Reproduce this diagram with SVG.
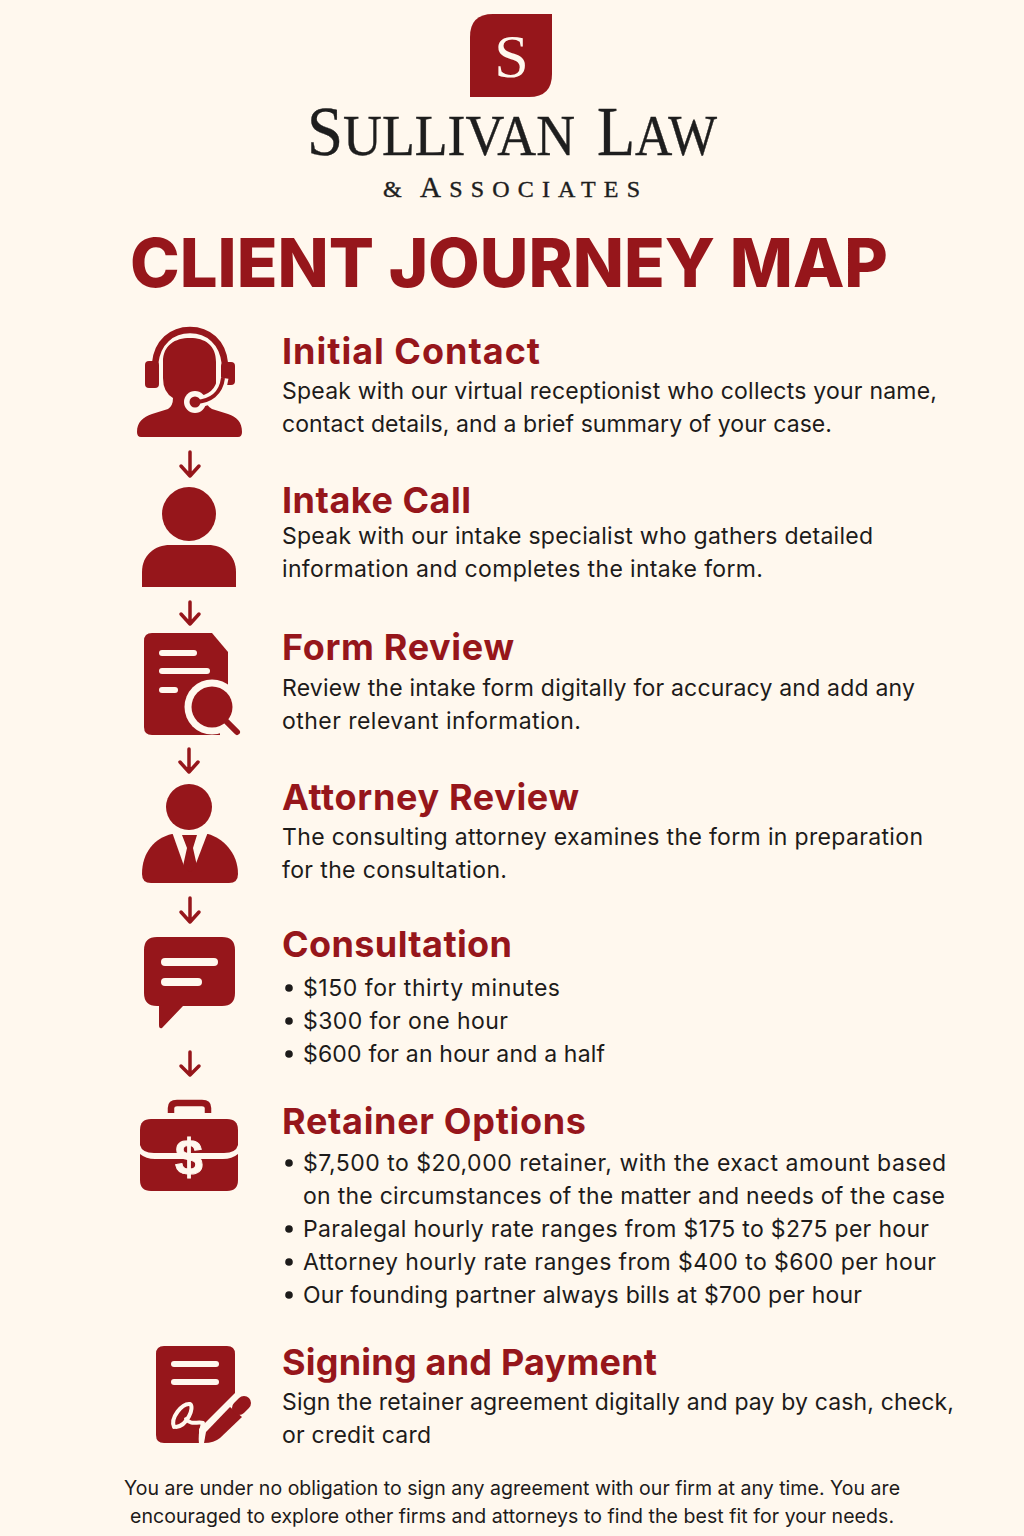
<svg xmlns="http://www.w3.org/2000/svg" width="1024" height="1536" viewBox="0 0 1024 1536">
<style>
.r{fill:#96161b}.c{fill:#fff8ee}
.h{font-family:Inter,"Liberation Sans",sans-serif;font-weight:700;font-size:36px;fill:#96161b}
.b{font-family:Inter,"Liberation Sans",sans-serif;font-size:23px;fill:#1d1b1a}
.f{font-family:Inter,"Liberation Sans",sans-serif;font-size:19.500px;fill:#1d1b1a}
.s{font-family:"Liberation Serif",serif;fill:#1e1e1e;stroke:#1e1e1e;stroke-width:.4}
.dot{fill:#1d1b1a}
.arrow{fill:none;stroke:#96161b;stroke-width:3.5;stroke-linecap:round;stroke-linejoin:round}
</style>
<rect width="1024" height="1536" fill="#fff8ee"/>
<g id="header">
<path class="r" d="M470 97V37Q470 14 493 14H552V74Q552 97 529 97Z"/>
<text x="511.500" y="77" text-anchor="middle" font-family="Liberation Serif,serif" font-size="62" fill="#fff8ee">S</text>
<text class="s" y="155" font-size="58"><tspan x="307" textLength="268" lengthAdjust="spacingAndGlyphs"><tspan font-size="70">S</tspan>ULLIVAN</tspan> <tspan x="597" textLength="120" lengthAdjust="spacingAndGlyphs"><tspan font-size="70">L</tspan>AW</tspan></text>
<text class="s" y="197" font-size="24"><tspan x="383">&amp;</tspan> <tspan x="420" textLength="220"><tspan font-size="29">A</tspan>SSOCIATES</tspan></text>
<text x="130" y="287" font-family="Inter,'Liberation Sans',sans-serif" font-weight="800" font-size="68" fill="#96161b" textLength="758" lengthAdjust="spacingAndGlyphs">CLIENT JOURNEY MAP</text>
</g>
<g id="connectors" class="arrow">
<path d="M190 452V476M181 466L190 476L199 466"/>
<path d="M190 602V624M181 614L190 624L199 614"/>
<path d="M189 749V772M180 762L189 772L198 762"/>
<path d="M190 898V922M181 912L190 922L199 912"/>
<path d="M190 1052V1075M181 1066L190 1075L199 1066"/>
</g>
<g id="initial-contact">
<path class="r" d="M141 437Q137 437 137 432C137 422 143 417 152 414L168 409Q173 406 173 398Q163 392 163 378V362C163 345 175 338 190 338C205 338 216 345 216 362V385Q216 392 206 398Q206 406 212 409L228 414C237 417 242 422 242 432Q242 437 238 437Z"/>
<path d="M155 364C157 342 172 330 190 330C208 330 223 342 225 364" fill="none" stroke="#96161b" stroke-width="6.500"/>
<rect class="r" x="145" y="361" width="14" height="27" rx="4"/>
<rect class="r" x="221" y="362" width="14" height="23" rx="4"/>
<path d="M223 378C221 394 210 401 196 402" fill="none" stroke="#fff8ee" stroke-width="11"/>
<circle class="c" cx="195" cy="402" r="11"/>
<path d="M223 378C221 394 210 401 196 402" fill="none" stroke="#96161b" stroke-width="4"/>
<circle class="r" cx="195" cy="402" r="5.500"/>
<text class="h" x="282" y="364" textLength="258">Initial Contact</text>
<text class="b" x="282" y="399" textLength="655">Speak with our virtual receptionist who collects your name,</text>
<text class="b" x="282" y="432" textLength="550">contact details, and a brief summary of your case.</text>
</g>
<g id="intake-call">
<circle class="r" cx="189" cy="514" r="27"/>
<path class="r" d="M142 587V572C142 555 155 545 170 545H208C223 545 236 555 236 572V587Z"/>
<text class="h" x="282" y="513" textLength="189">Intake Call</text>
<text class="b" x="282" y="544" textLength="591">Speak with our intake specialist who gathers detailed</text>
<text class="b" x="282" y="577" textLength="481">information and completes the intake form.</text>
</g>
<g id="form-review">
<path class="r" d="M152 633H212L228 652V727Q228 735 220 735H152Q144 735 144 727V641Q144 633 152 633Z"/>
<rect class="c" x="159" y="650" width="38" height="6" rx="3"/>
<rect class="c" x="159" y="668" width="51" height="6" rx="3"/>
<rect class="c" x="159" y="687" width="19" height="6" rx="3"/>
<rect class="c" x="220" y="700" width="22" height="40"/>
<circle class="c" cx="212" cy="707" r="27.500"/>
<circle class="r" cx="212" cy="707" r="20.500"/>
<path d="M227 722L237 732" fill="none" stroke="#96161b" stroke-width="6" stroke-linecap="round"/>
<text class="h" x="282" y="660" textLength="232">Form Review</text>
<text class="b" x="282" y="696" textLength="633">Review the intake form digitally for accuracy and add any</text>
<text class="b" x="282" y="729" textLength="299">other relevant information.</text>
</g>
<g id="attorney-review">
<circle class="r" cx="189" cy="807" r="23"/>
<path class="r" d="M172 834C155 838 142 852 142 874Q142 883 151 883H229Q238 883 238 874C238 852 222 838 208 834Z"/>
<path class="c" d="M172 832H208L195 866H184Z"/>
<path class="r" d="M182 835H197L193 848L197 866L190 872L183 866L187 848Z"/>
<text class="h" x="282" y="810" textLength="297">Attorney Review</text>
<text class="b" x="282" y="845" textLength="641">The consulting attorney examines the form in preparation</text>
<text class="b" x="282" y="878" textLength="225">for the consultation.</text>
</g>
<g id="consultation">
<path class="r" d="M157 937H222Q235 937 235 950V993Q235 1006 222 1006H183L162 1028Q159 1029 159 1025V1006H157Q144 1006 144 993V950Q144 937 157 937Z"/>
<rect class="c" x="161" y="958" width="57" height="8" rx="4"/>
<rect class="c" x="161" y="978" width="41" height="8" rx="4"/>
<text class="h" x="282" y="957" textLength="230">Consultation</text>
<circle class="dot" cx="289" cy="988" r="3.800"/>
<circle class="dot" cx="289" cy="1021" r="3.800"/>
<circle class="dot" cx="289" cy="1054" r="3.800"/>
<text class="b" x="303" y="996" textLength="257">$150 for thirty minutes</text>
<text class="b" x="303" y="1029" textLength="205">$300 for one hour</text>
<text class="b" x="303" y="1062" textLength="302">$600 for an hour and a half</text>
</g>
<g id="retainer-options">
<path d="M171 1113V1108Q171 1103 177 1103H202Q208 1103 208 1108V1113" fill="none" stroke="#96161b" stroke-width="6.500"/>
<path class="r" d="M151 1119H227Q238 1119 238 1130V1145Q236 1153 224 1153H154Q142 1153 140 1145V1130Q140 1119 151 1119Z"/>
<path class="r" d="M140 1154Q146 1159 155 1159H223Q232 1159 238 1154V1180Q238 1191 227 1191H151Q140 1191 140 1180Z"/>
<text x="189" y="1174" text-anchor="middle" font-family="Liberation Sans,sans-serif" font-weight="700" font-size="50" fill="#fff8ee" stroke="#fff8ee" stroke-width="1">$</text>
<text class="h" x="282" y="1134" textLength="304">Retainer Options</text>
<circle class="dot" cx="289" cy="1163" r="3.800"/>
<circle class="dot" cx="289" cy="1229" r="3.800"/>
<circle class="dot" cx="289" cy="1262" r="3.800"/>
<circle class="dot" cx="289" cy="1295" r="3.800"/>
<text class="b" x="303" y="1171" textLength="643">$7,500 to $20,000 retainer, with the exact amount based</text>
<text class="b" x="303" y="1204" textLength="642">on the circumstances of the matter and needs of the case</text>
<text class="b" x="303" y="1237" textLength="626">Paralegal hourly rate ranges from $175 to $275 per hour</text>
<text class="b" x="303" y="1270" textLength="633">Attorney hourly rate ranges from $400 to $600 per hour</text>
<text class="b" x="303" y="1303" textLength="559">Our founding partner always bills at $700 per hour</text>
</g>
<g id="signing-and-payment">
<path class="r" d="M164 1346H227Q235 1346 235 1354V1393L199 1429V1443H164Q156 1443 156 1435V1354Q156 1346 164 1346Z"/>
<rect class="c" x="171" y="1361" width="48" height="6" rx="3"/>
<rect class="c" x="171" y="1379" width="48" height="6" rx="3"/>
<path d="M174 1427C170 1418 182 1403 190 1404C195 1407 187 1426 176 1427M186 1419C192 1426 197 1421 203 1423C201 1430 200 1436 201 1444" fill="none" stroke="#fff8ee" stroke-width="4" stroke-linecap="round" stroke-linejoin="round"/>
<path class="r" d="M204 1443L206 1432L230 1407L242 1417L220 1438Q214 1443 204 1443Z"/>
<path d="M239 1408L244 1403" fill="none" stroke="#96161b" stroke-width="14" stroke-linecap="round"/>
<text class="h" x="282" y="1375" textLength="375">Signing and Payment</text>
<text class="b" x="282" y="1410" textLength="672">Sign the retainer agreement digitally and pay by cash, check,</text>
<text class="b" x="282" y="1443" textLength="149">or credit card</text>
</g>
<g id="footer">
<text class="f" x="124" y="1495" textLength="776">You are under no obligation to sign any agreement with our firm at any time. You are</text>
<text class="f" x="130" y="1523" textLength="764">encouraged to explore other firms and attorneys to find the best fit for your needs.</text>
</g>
</svg>
